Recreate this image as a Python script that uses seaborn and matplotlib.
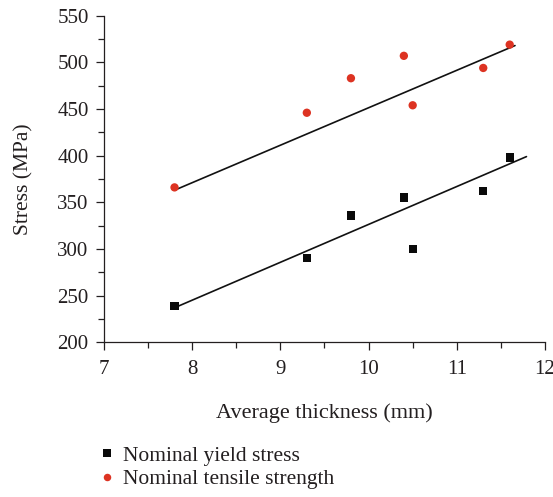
import pandas as pd
import matplotlib.pyplot as plt
import seaborn as sns

# data
thickness = [7.8, 9.3, 9.8, 10.4, 10.5, 11.3, 11.6]
yield_stress = [239, 290, 336, 355, 300, 362, 398]
tensile_strength = [366, 446, 483, 507, 454, 494, 519]

# fitted trend lines (end points as drawn in the reference)
yield_fit_x = [7.8, 11.79]
yield_fit_y = [237, 399]
tensile_fit_x = [7.8, 11.66]
tensile_fit_y = [363, 518]

x_ticks = [7, 8, 9, 10, 11, 12]
y_ticks = [200, 250, 300, 350, 400, 450, 500, 550]

labels = ["Nominal yield stress", "Nominal tensile strength"]

df = pd.DataFrame({
    "thickness": thickness * 2,
    "stress": yield_stress + tensile_strength,
    "kind": [labels[0]] * len(thickness) + [labels[1]] * len(thickness),
})

sns.set_theme(style="ticks")
plt.rcParams["font.family"] = ["Liberation Serif", "DejaVu Serif"]
plt.rcParams["text.color"] = "#231f20"
plt.rcParams["axes.labelcolor"] = "#231f20"
plt.rcParams["xtick.color"] = "#231f20"
plt.rcParams["ytick.color"] = "#231f20"

fig = plt.figure(figsize=(5.53, 4.97), dpi=100)
ax = fig.add_axes([0.188, 0.3113, 0.7975, 0.6571])

sns.lineplot(x=yield_fit_x, y=yield_fit_y, color="#111111", linewidth=1.2, ax=ax)
sns.lineplot(x=tensile_fit_x, y=tensile_fit_y, color="#111111", linewidth=1.2, ax=ax)

sns.scatterplot(
    data=df,
    x="thickness",
    y="stress",
    hue="kind",
    style="kind",
    palette={labels[0]: "#0a0a0a", labels[1]: "#dd3322"},
    markers={labels[0]: "s", labels[1]: "o"},
    s=36,
    linewidth=0,
    zorder=3,
    ax=ax,
)

ax.set_xlim(7, 12)
ax.set_ylim(200, 550)
ax.set_xticks(x_ticks)
ax.set_yticks(y_ticks)
ax.set_xticks([7.5, 8.5, 9.5, 10.5, 11.5], minor=True)
ax.set_yticks([225, 275, 325, 375, 425, 475, 525], minor=True)
ax.tick_params(which="major", length=5.5, width=0.9, labelsize=15)
ax.tick_params(axis="x", which="major", pad=7)
ax.tick_params(axis="y", which="major", pad=5.5)
ax.tick_params(which="minor", length=4, width=0.9)
for side in ["left", "bottom"]:
    ax.spines[side].set_linewidth(0.9)
    ax.spines[side].set_color("#231f20")
sns.despine(ax=ax)

ax.set_xlabel("Average thickness (mm)", fontsize=16, labelpad=18)
ax.set_ylabel("Stress (MPa)", fontsize=15.5, labelpad=17)

handles, lbls = ax.get_legend_handles_labels()
ax.legend(
    handles, lbls,
    loc="upper left",
    bbox_to_anchor=(0.178, 0.103),
    bbox_transform=fig.transFigure,
    frameon=False,
    borderpad=0,
    borderaxespad=0,
    handlelength=0.75,
    handletextpad=0.4,
    labelspacing=0.15,
    markerscale=0.9,
    fontsize=15.5,
)

fig.savefig("out.png", dpi=100)
